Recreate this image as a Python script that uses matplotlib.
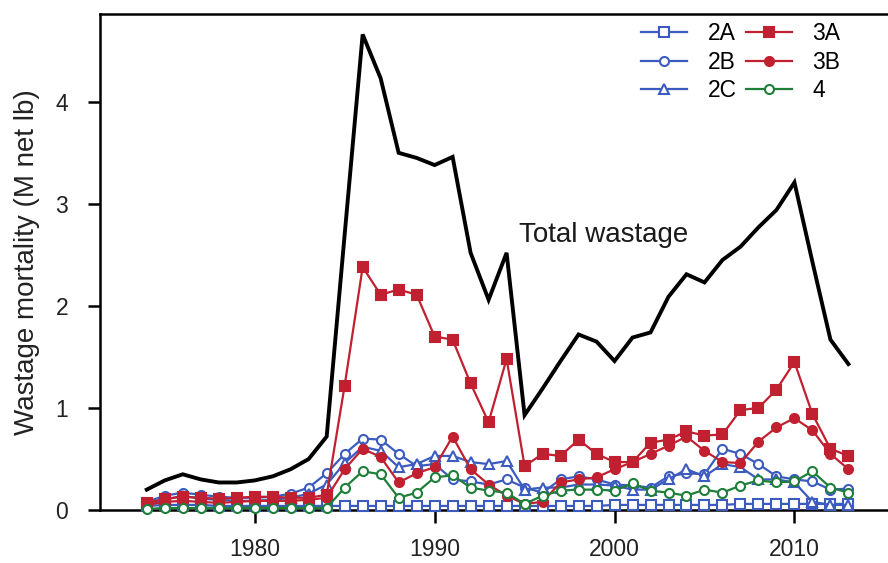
import numpy as np
import matplotlib
matplotlib.use("Agg")
import matplotlib.pyplot as plt

plt.rcParams['font.family'] = ['Liberation Sans', 'DejaVu Sans']

years = list(range(1974, 2014))

# total wastage (M net lb)
total = [0.20, 0.29, 0.35, 0.30, 0.27, 0.27, 0.29, 0.33, 0.40, 0.50, 0.72,
         2.70, 4.66, 4.23, 3.50, 3.45, 3.38, 3.46, 2.52, 2.06, 2.52,
         0.93, 1.19, 1.46, 1.72, 1.65, 1.46, 1.69, 1.74, 2.09, 2.31,
         2.23, 2.45, 2.58, 2.77, 2.94, 3.21, 2.43, 1.67, 1.43]

# by regulatory area
a2A = [0.04, 0.05, 0.05, 0.05, 0.04, 0.04, 0.04, 0.04, 0.04, 0.04, 0.04,
       0.04, 0.04, 0.04, 0.04, 0.04, 0.04, 0.04, 0.04, 0.04, 0.04,
       0.04, 0.04, 0.04, 0.04, 0.04, 0.05, 0.05, 0.05, 0.05, 0.05,
       0.05, 0.05, 0.06, 0.06, 0.06, 0.06, 0.06, 0.06, 0.06]
a2B = [0.08, 0.14, 0.17, 0.15, 0.13, 0.12, 0.12, 0.13, 0.16, 0.22, 0.36,
       0.55, 0.70, 0.69, 0.55, 0.43, 0.45, 0.30, 0.28, 0.25, 0.30,
       0.22, 0.17, 0.30, 0.33, 0.30, 0.25, 0.24, 0.22, 0.33, 0.36,
       0.35, 0.60, 0.55, 0.45, 0.33, 0.30, 0.28, 0.20, 0.21]
a2C = [0.06, 0.10, 0.14, 0.11, 0.10, 0.09, 0.09, 0.10, 0.12, 0.16, 0.25,
       0.46, 0.62, 0.58, 0.42, 0.45, 0.53, 0.53, 0.47, 0.45, 0.48,
       0.20, 0.22, 0.22, 0.25, 0.25, 0.24, 0.20, 0.20, 0.30, 0.40,
       0.33, 0.45, 0.42, 0.30, 0.30, 0.27, 0.08, 0.05, 0.05]
a3A = [0.07, 0.11, 0.13, 0.12, 0.11, 0.12, 0.13, 0.13, 0.12, 0.12, 0.15,
       1.22, 2.38, 2.11, 2.16, 2.11, 1.70, 1.67, 1.24, 0.86, 1.48,
       0.43, 0.55, 0.53, 0.69, 0.55, 0.47, 0.47, 0.66, 0.69, 0.77,
       0.73, 0.74, 0.98, 1.00, 1.18, 1.45, 0.94, 0.60, 0.53]
a3B = [0.05, 0.08, 0.09, 0.08, 0.07, 0.08, 0.09, 0.09, 0.09, 0.10, 0.12,
       0.40, 0.60, 0.52, 0.27, 0.36, 0.42, 0.72, 0.40, 0.25, 0.14,
       0.06, 0.08, 0.27, 0.30, 0.32, 0.40, 0.47, 0.55, 0.63, 0.72,
       0.58, 0.47, 0.46, 0.67, 0.81, 0.90, 0.78, 0.55, 0.40]
a4 = [0.01, 0.02, 0.02, 0.02, 0.02, 0.02, 0.02, 0.02, 0.02, 0.02, 0.02,
      0.22, 0.38, 0.35, 0.12, 0.17, 0.32, 0.34, 0.22, 0.19, 0.17,
      0.06, 0.14, 0.19, 0.20, 0.20, 0.19, 0.26, 0.19, 0.17, 0.14,
      0.20, 0.17, 0.24, 0.29, 0.27, 0.28, 0.38, 0.22, 0.17]

blue = '#3b5bbf'
red = '#c0202f'
green = '#1f7f3a'

fig = plt.figure(figsize=(8.88, 5.63), dpi=100)
ax = fig.add_axes([0.1126, 0.0941, 0.8874, 0.8810])

ax.plot(years, total, color='black', lw=2.8, solid_joinstyle='miter', zorder=3)

series = [
    ('2A', a2A, blue, 's', 'white'),
    ('2B', a2B, blue, 'o', 'white'),
    ('2C', a2C, blue, '^', 'white'),
    ('3A', a3A, red, 's', red),
    ('3B', a3B, red, 'o', red),
    ('4', a4, green, 'o', 'white'),
]
for name, vals, col, mk, fc in series:
    ax.plot(years, vals, color=col, lw=1.6, marker=mk, markersize=6.5,
            markerfacecolor=fc, markeredgecolor=col, markeredgewidth=1.5,
            label=name, clip_on=False, zorder=4)

ax.text(1994.67, 2.69, 'Total wastage', fontsize=20, va='center', ha='left',
        color='#1a1a1a')

ax.set_xlim(1971.4, 2015.2)
ax.set_ylim(0, 4.86)
ax.set_xticks([1980, 1990, 2000, 2010])
ax.set_yticks([0, 1, 2, 3, 4])
ax.tick_params(axis='both', direction='out', length=9, width=1.8,
               labelsize=16.5, labelcolor='#222222')
ax.tick_params(axis='x', pad=11)
ax.tick_params(axis='y', pad=14)
for s in ['left', 'top', 'bottom']:
    ax.spines[s].set_linewidth(1.8)
ax.spines['right'].set_visible(False)

ax.set_ylabel('Wastage mortality (M net lb)', fontsize=20, color='#222222',
              labelpad=11)

leg = ax.legend(ncol=2, frameon=False, fontsize=16.5, loc='upper left',
                bbox_to_anchor=(0.722, 0.961), bbox_transform=fig.transFigure,
                handlelength=2.0, handletextpad=0.9, columnspacing=0.4,
                labelspacing=0.25, borderpad=0, borderaxespad=0)

fig.savefig('out.png', dpi=100)
